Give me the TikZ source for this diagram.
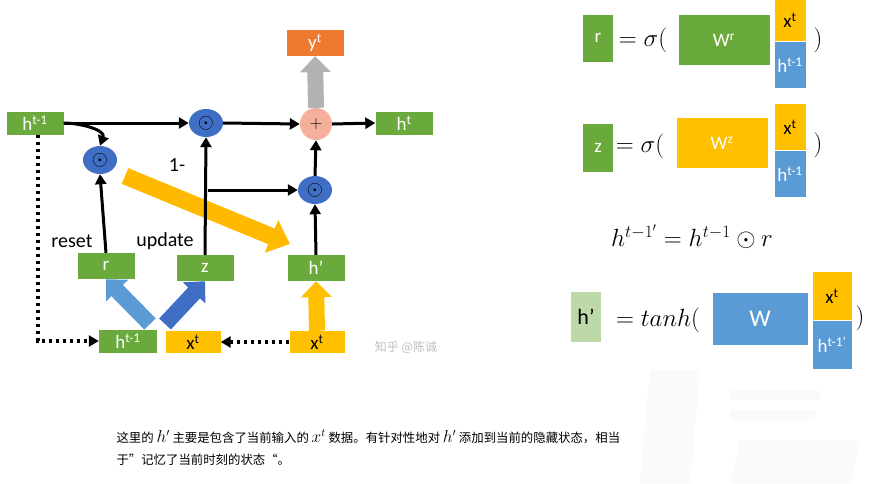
\documentclass[tikz,border=0pt]{standalone}
\usepackage{fontspec}
\setmainfont{Carlito}
\newfontfamily\cjk{Noto Sans CJK SC}
\usetikzlibrary{arrows.meta,shapes.geometric}
\definecolor{gr}{HTML}{6AAA3C}
\definecolor{ye}{HTML}{FFC000}
\definecolor{bl}{HTML}{5B9BD5}
\definecolor{cb}{HTML}{3F6FC4}
\definecolor{orng}{HTML}{EE7A30}
\definecolor{pk}{HTML}{F4B09A}
\newcommand{\bm}[1]{{\fontsize{16}{16}\selectfont$#1$}}
\tikzset{
 box/.style={rectangle,inner sep=0pt,minimum width=#1,text=white,font=\fontsize{19}{19}\selectfont},
 box/.default=57pt,
 gbox/.style={box,fill=gr,minimum height=23pt},
 ybox/.style={box,fill=ye,text=black,minimum height=22pt},
 dot/.style={ellipse,fill=cb,minimum width=34pt,minimum height=28pt,inner sep=0pt,font=\fontsize{22}{22}\selectfont},
 ar/.style={-{Triangle[length=10pt,width=11pt]},line width=3pt},
 dar/.style={-{Triangle[length=10pt,width=11pt]},line width=3.5pt,dash pattern=on 3.5pt off 3.5pt},
 fat/.style={line width=16pt,-{Triangle[length=16pt,width=30pt]}},
 lbl/.style={font=\fontsize{20}{20}\selectfont},
 big/.style={font=\fontsize{30}{30}\selectfont},
}
\begin{document}
\begin{tikzpicture}[x=1pt,y=-1pt]
\useasboundingbox (0,0) rectangle (876,483);
\fill[white] (0,0) rectangle (876,483);
% faint watermark shapes
\fill[gray!4] (650,370) -- (700,370) -- (690,483) -- (640,483) -- cycle;
\fill[gray!4] (730,390) rectangle (820,400);
\fill[gray!4] (730,410) rectangle (815,420);
\fill[gray!4] (740,440) -- (860,440) -- (850,483) -- (730,483) -- cycle;
% left diagram
\node[gbox] (h1) at (35,123) {h\textsuperscript{t-1}};
\node[dot] (o1) at (206,123) {$\odot$};
\node[circle,fill=pk,minimum size=32pt,inner sep=0pt,font=\fontsize{18}{18}\selectfont] (p) at (316,124) {$+$};
\node[gbox] (ht) at (404,123) {h\textsuperscript{t}};
\node[box,fill=orng,minimum height=26pt] (yt) at (315,43) {y\textsuperscript{t}};
\node[dot] (o2) at (100,160) {$\odot$};
\node[dot] (o3) at (315,190) {$\odot$};
\node[gbox,minimum height=26pt] (r) at (106,266) {r};
\node[gbox,minimum height=26pt] (z) at (205,268) {z};
\node[gbox,minimum height=26pt] (hp) at (316,268) {h'};
\node[gbox,minimum width=58pt] (hb) at (128,341) {h\textsuperscript{t-1}};
\node[ybox,minimum width=55pt] (xb) at (193,342) {x\textsuperscript{t}};
\node[ybox,minimum width=55pt] (xr) at (317,342) {x\textsuperscript{t}};
\coordinate (c1) at (208,190);
\coordinate (c0) at (38,341);
\coordinate (ya) at (125,176);
\coordinate (yb) at (290,244);
\coordinate (ba) at (150,324);
\coordinate (bb) at (165,324);
\draw[fat,gray!60] (p.north) -- (yt.south);
\draw[fat,ye!90!orange,line width=17pt,-{Triangle[length=20pt,width=34pt]}] (ya) -- (yb);
\draw[fat,bl] (ba) -- (r.south);
\draw[fat,cb] (bb) -- (z.south);
\draw[fat,ye] (xr.north) -- (hp.south);
\draw[ar] (h1.east) -- (o1.west);
\draw[ar] (o1.east) -- (p.west);
\draw[ar] (p.east) -- (ht.west);
\draw[ar] (h1.east) to[out=0,in=70] (o2.north);
\draw[ar] (r.north) -- (o2.south);
\draw[ar] (z.north) -- (o1.south);
\draw[ar] (c1) -- (o3.west);
\draw[ar] (o3.north) -- (p.south);
\draw[ar] (hp.north) -- (o3.south);
\draw[dar] (h1.south -| c0) -- (c0) -- (hb.west);
\draw[dar] (xr.west) -- (xb.east);
\node[lbl] (l1) at (177,165) {1-};
\node[lbl] (l2) at (72,241) {reset};
\node[lbl] (l3) at (165,241) {update};
\node[text=gray!50,font=\cjk\fontsize{12}{12}\selectfont] (wm) at (406,347) {知乎 @陈诚};
% right equations
\node[box=30pt,fill=gr,minimum height=47pt] (rr) at (598,38) {r};
\node[big] (e1) at (643,40) {$=\sigma($};
\node[box=91pt,fill=gr,minimum height=50pt] (wr) at (724,40) {W\textsuperscript{r}};
\node[ybox,minimum width=31pt,minimum height=41pt] (x1) at (790,20) {x\textsuperscript{t}};
\node[box=31pt,fill=bl,minimum height=46pt] (h1r) at (790,65) {h\textsuperscript{t-1}};
\node[big] (c1r) at (818,40) {$)$};
\node[box=30pt,fill=gr,minimum height=48pt] (zz) at (598,148) {z};
\node[big] (e2) at (640,146) {$=\sigma($};
\node[box=91pt,fill=ye,minimum height=50pt] (wz) at (722,143) {W\textsuperscript{z}};
\node[ybox,minimum width=31pt,minimum height=46pt] (x2) at (790,127) {x\textsuperscript{t}};
\node[box=31pt,fill=bl,minimum height=46pt] (h2r) at (790,174) {h\textsuperscript{t-1}};
\node[big] (c2r) at (818,145) {$)$};
\node[font=\fontsize{23}{23}\selectfont] (eq) at (692,237) {$h^{t-1'}=h^{t-1}\odot r$};
\node[box=30pt,fill=gr!45,text=black,minimum height=50pt,font=\fontsize{22}{22}\selectfont] (hh) at (586,317) {h’};
\node[big] (e3) at (658,320) {$=tanh($};
\node[box=95pt,fill=bl,minimum height=52pt,font=\fontsize{24}{24}\selectfont] (w) at (760,319) {W};
\node[ybox,minimum width=39pt,minimum height=48pt] (x3) at (832,296) {x\textsuperscript{t}};
\node[box=39pt,fill=bl,minimum height=48pt] (h3r) at (832,345) {h\textsuperscript{t-1’}};
\node[big] (c3r) at (860,318) {$)$};
% bottom text
\node[anchor=west,font=\cjk\fontsize{12.4}{12.4}\selectfont] (t1) at (113,437) {这里的 \bm{h'} 主要是包含了当前输入的 \bm{x^t} 数据。有针对性地对 \bm{h'} 添加到当前的隐藏状态，相当};
\node[anchor=west,font=\cjk\fontsize{12.4}{12.4}\selectfont] (t2) at (113,460) {于”记忆了当前时刻的状态“。};
\end{tikzpicture}
\end{document}
